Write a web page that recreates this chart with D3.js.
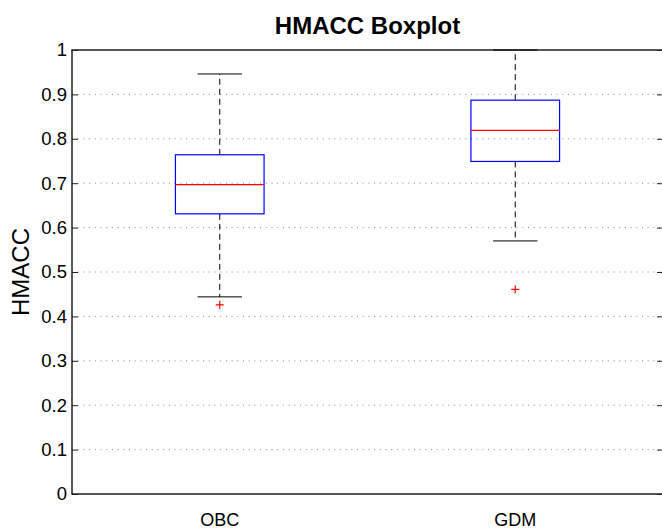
<!DOCTYPE html>
<html>
<head>
<meta charset="utf-8">
<script src="https://cdn.jsdelivr.net/npm/d3@7"></script>
<style>
  body { margin: 0; background: #fff; }
  text { font-family: "Liberation Sans", Arial, Helvetica, sans-serif; }
</style>
</head>
<body>
<svg id="chart" width="662" height="532"></svg>
<script>
// data
var groups = ["OBC", "GDM"];
var whiskerLow = [0.444, 0.570];
var q1 = [0.631, 0.749];
var median = [0.697, 0.819];
var q3 = [0.764, 0.887];
var whiskerHigh = [0.946, 1.0];
var outliers = [[0.426], [0.461]];
var yTicks = [0, 0.1, 0.2, 0.3, 0.4, 0.5, 0.6, 0.7, 0.8, 0.9, 1];

var width = 662, height = 532;
var margin = {top: 50, right: -1, bottom: 38, left: 72};

var svg = d3.select("#chart");

var x = d3.scaleLinear().domain([0.5, 2.5]).range([margin.left, width - margin.right]);
var y = d3.scaleLinear().domain([0, 1]).range([height - margin.bottom, margin.top]);

var boxes = groups.map(function (g, i) {
  return {name: g, pos: i + 1, lo: whiskerLow[i], q1: q1[i], med: median[i],
          q3: q3[i], hi: whiskerHigh[i], out: outliers[i]};
});

var boxHalf = 0.15, capHalf = 0.075;

// gridlines
svg.append("g")
   .selectAll("line")
   .data(yTicks.filter(function (t) { return t > 0 && t < 1; }))
   .enter().append("line")
   .attr("x1", x(0.5)).attr("x2", x(2.5))
   .attr("y1", d => y(d)).attr("y2", d => y(d))
   .attr("stroke", "#888")
   .attr("stroke-width", 1)
   .attr("stroke-dasharray", "1,4.7");

// left axis, ticks pointing inward
var yAxis = d3.axisLeft(y).tickValues(yTicks).tickSize(-6).tickPadding(5)
              .tickFormat(function (d) { return d === 0 || d === 1 ? d3.format("d")(d) : d3.format(".1f")(d); });
var ga = svg.append("g")
   .attr("transform", `translate(${margin.left},0)`)
   .call(yAxis);
ga.select(".domain").remove();
ga.selectAll("line").attr("stroke", "#222");
ga.selectAll("text").attr("font-size", 18.5).attr("fill", "#000");

// right side ticks
var yRight = d3.axisRight(y).tickValues(yTicks).tickSize(-6).tickFormat("");
var gr = svg.append("g")
   .attr("transform", `translate(${x(2.5)},0)`)
   .call(yRight);
gr.select(".domain").remove();
gr.selectAll("line").attr("stroke", "#222");

// frame
svg.append("rect")
   .attr("x", x(0.5)).attr("y", y(1))
   .attr("width", x(2.5) - x(0.5)).attr("height", y(0) - y(1))
   .attr("fill", "none")
   .attr("stroke", "#222")
   .attr("stroke-width", 1.5);

var bg = svg.selectAll(".box")
   .data(boxes)
   .enter().append("g")
   .attr("class", "box");

// whiskers
bg.append("line")
  .attr("x1", d => x(d.pos)).attr("x2", d => x(d.pos))
  .attr("y1", d => y(d.q3)).attr("y2", d => y(d.hi))
  .attr("stroke", "#000").attr("stroke-dasharray", "6,4");
bg.append("line")
  .attr("x1", d => x(d.pos)).attr("x2", d => x(d.pos))
  .attr("y1", d => y(d.q1)).attr("y2", d => y(d.lo))
  .attr("stroke", "#000").attr("stroke-dasharray", "6,4");

// caps
bg.append("line")
  .attr("x1", d => x(d.pos - capHalf)).attr("x2", d => x(d.pos + capHalf))
  .attr("y1", d => y(d.hi)).attr("y2", d => y(d.hi))
  .attr("stroke", "#000");
bg.append("line")
  .attr("x1", d => x(d.pos - capHalf)).attr("x2", d => x(d.pos + capHalf))
  .attr("y1", d => y(d.lo)).attr("y2", d => y(d.lo))
  .attr("stroke", "#000");

// box
bg.append("rect")
  .attr("x", d => x(d.pos - boxHalf))
  .attr("y", d => y(d.q3))
  .attr("width", d => x(d.pos + boxHalf) - x(d.pos - boxHalf))
  .attr("height", d => y(d.q1) - y(d.q3))
  .attr("fill", "none")
  .attr("stroke", "#0000ff")
  .attr("stroke-width", 1.2);

// median
bg.append("line")
  .attr("x1", d => x(d.pos - boxHalf)).attr("x2", d => x(d.pos + boxHalf))
  .attr("y1", d => y(d.med)).attr("y2", d => y(d.med))
  .attr("stroke", "#ff0000").attr("stroke-width", 1.3);

// outliers as red +
bg.selectAll(".out")
  .data(d => d.out.map(v => ({pos: d.pos, v: v})))
  .enter().append("path")
  .attr("class", "out")
  .attr("d", d => `M${x(d.pos) - 4},${y(d.v)}h8M${x(d.pos)},${y(d.v) - 4}v8`)
  .attr("stroke", "#ff0000").attr("stroke-width", 1.2);

// x labels
svg.selectAll(".xlab")
   .data(boxes)
   .enter().append("text")
   .attr("class", "xlab")
   .attr("x", d => x(d.pos))
   .attr("y", 526)
   .attr("text-anchor", "middle")
   .attr("font-size", 18)
   .text(d => d.name);

// title
svg.append("text")
   .attr("x", (x(0.5) + x(2.5)) / 2)
   .attr("y", 34)
   .attr("text-anchor", "middle")
   .attr("font-size", 24)
   .attr("font-weight", "bold")
   .text("HMACC Boxplot");

// y label
svg.append("text")
   .attr("transform", `translate(29,${(y(0) + y(1)) / 2}) rotate(-90)`)
   .attr("text-anchor", "middle")
   .attr("font-size", 24)
   .text("HMACC");
</script>
</body>
</html>
